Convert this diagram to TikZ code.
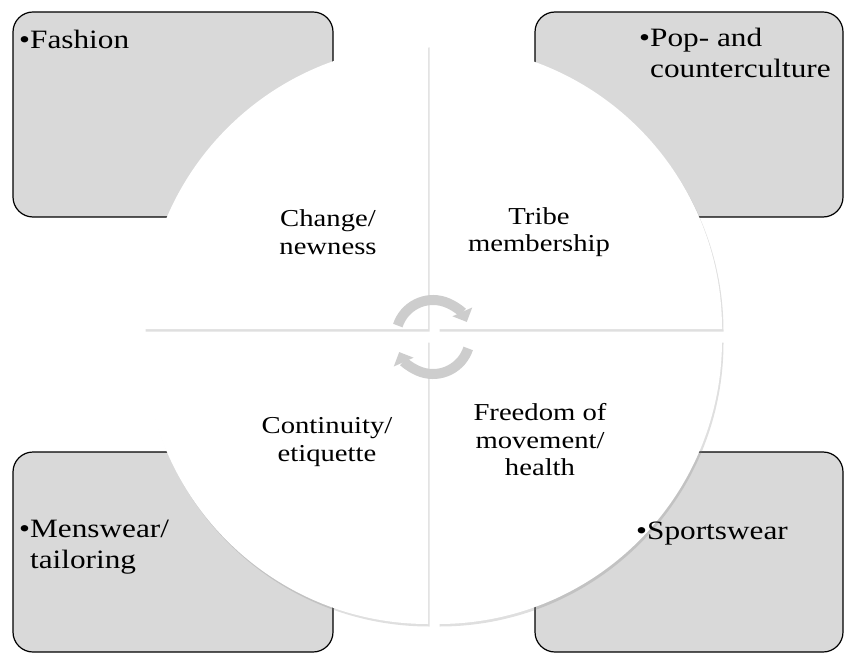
\documentclass[tikz,border=0pt]{standalone}
\usepackage{fontspec}
\setmainfont[FakeStretch=1.18]{Liberation Serif}
\usetikzlibrary{arrows.meta,shadows}
\tikzset{
  cornerbox/.style={draw=black,line width=1.2pt,fill=boxgray,rounded corners=20pt,
    minimum width=#1,minimum height=205pt,inner sep=0pt},
  quarter/.style={fill=white,draw=none,drop shadow={opacity=0.25,shadow xshift=1.5pt,shadow yshift=-2.5pt}},
  label/.style={align=center,font=\fontsize{24.3}{27.5}\selectfont,inner sep=0pt},
  item/.style={anchor=base west,font=\fontsize{26.5}{31}\selectfont,inner sep=0pt},
  turn/.style={draw=arrowgray,line width=10pt,-{Triangle[width=21pt,length=11pt]}}
}
\definecolor{boxgray}{HTML}{D9D9D9}
\definecolor{arrowgray}{HTML}{CDCDCD}
\begin{document}
\begin{tikzpicture}[x=1pt,y=1pt]
\useasboundingbox (0,0) rectangle (845,654);
% corner boxes
\node[cornerbox=320pt] (fashionbox) at (173,539.5) {};
\node[cornerbox=308pt] (popbox) at (689,539.5) {};
\node[cornerbox=320pt,minimum height=200pt] (menbox) at (173,102) {};
\node[cornerbox=308pt,minimum height=200pt] (sportbox) at (689,102) {};
% the four quarters of the circle
\coordinate (tlc) at (428,325);
\coordinate (trc) at (438,325);
\coordinate (blc) at (428,314);
\coordinate (brc) at (438,314);
\path[quarter] (tlc) -- ++(-284,0) arc[start angle=180,end angle=90,radius=284] -- cycle;
\path[quarter] (trc) -- ++(0,284) arc[start angle=90,end angle=0,radius=284] -- cycle;
\path[quarter] (blc) -- ++(0,-284) arc[start angle=270,end angle=180,radius=284] -- cycle;
\path[quarter] (brc) -- ++(284,0) arc[start angle=0,end angle=-90,radius=284] -- cycle;
% texts in the quarters
\node[label] (change) at (328,422) {Change/\\newness};
\node[label] (tribe) at (539,422) {Tribe\\membership};
\node[label] (continuity) at (327,212) {Continuity/\\etiquette};
\node[label] (freedom) at (540,214) {Freedom of\\movement/\\health};
% texts in the boxes
\node[item] (fashion) at (19,605) {•Fashion};
\node[item] (pop) at (639,607) {•\begin{tabular}[t]{@{}l@{}}Pop- and\\counterculture\end{tabular}};
\node[item] (menswear) at (19,117) {•\begin{tabular}[t]{@{}l@{}}Menswear/\\tailoring\end{tabular}};
\node[item] (sportswear) at (636,115) {•Sportswear};
% cycle arrows
\coordinate (hub) at (433,317);
\draw[turn] ([shift={(162:37)}]hub) arc[start angle=162,end angle=24,radius=37];
\draw[turn] ([shift={(-18:37)}]hub) arc[start angle=-18,end angle=-156,radius=37];
\end{tikzpicture}
\end{document}
